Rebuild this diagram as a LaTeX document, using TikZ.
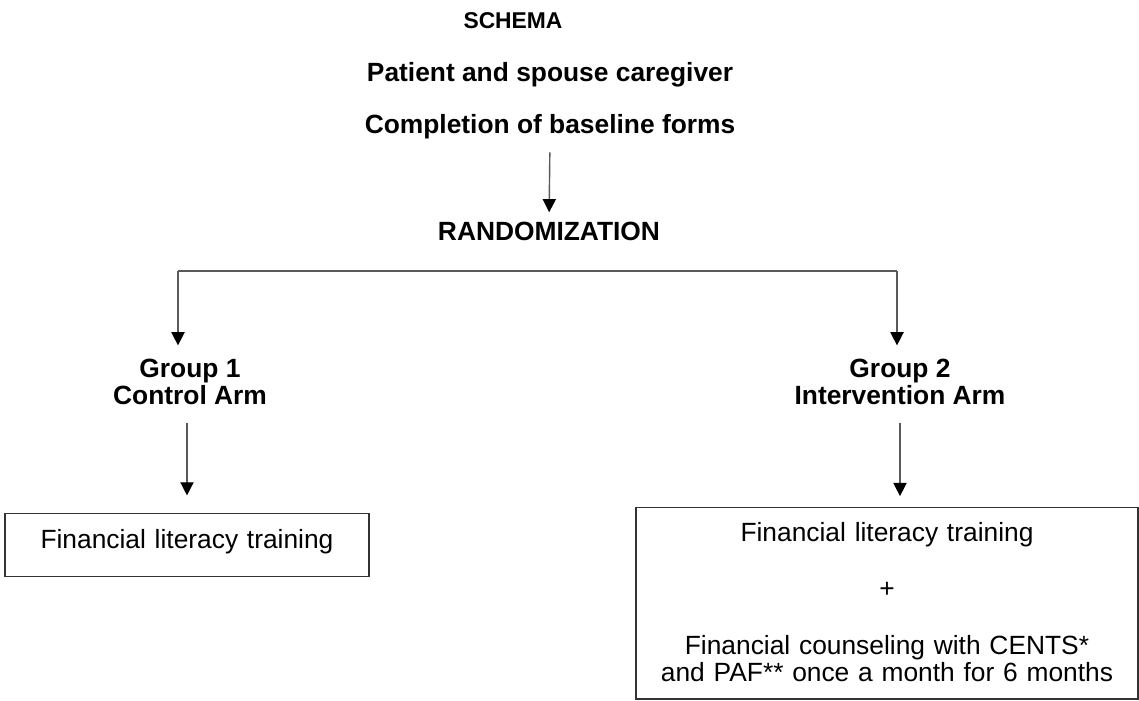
\documentclass[tikz,border=0pt]{standalone}
\usepackage{fontspec}
\setmainfont{Liberation Sans}
\usetikzlibrary{arrows.meta}

\newcommand{\schemafont}{\fontsize{15}{15.3}\selectfont}

\begin{document}
\begin{tikzpicture}[x=0.02cm, y=-0.02cm, font=\schemafont,
		title/.style={font=\schemafont\bfseries, inner sep=0pt, align=center},
		armbox/.style={draw=black!80, line width=0.8pt, inner sep=0pt, align=center},
		line/.style={draw=black!65, line width=0.8pt},
		link/.style={line, -{Triangle[width=7.5pt,length=7.5pt,black]}}]
		\useasboundingbox (0,0) rectangle (1139,700);

		% Titles
		\node[title, anchor=base, font=\fontsize{13}{15}\selectfont\bfseries] (schema) at (513,28) {SCHEMA};
		\node[title, anchor=base] (patient) at (550,81.5) {Patient and spouse caregiver};
		\node[title, anchor=base] (base) at (550,133.5) {Completion of baseline forms};
		\node[title, anchor=base] (rand) at (549,240.5) {RANDOMIZATION};

		% Arms
		\node[title] (g1) at (190,381.5) {Group 1\\Control Arm};
		\node[title] (g2) at (900,381.5) {Group 2\\Intervention Arm};

		\node[armbox, anchor=north, text width=7.28cm] (lbox) at (187,513)
			{\rule{0pt}{0.69cm}Financial literacy training\rule[-0.57cm]{0pt}{0.57cm}};
		\node[armbox, anchor=north, text width=10.04cm] (rbox) at (887,507)
			{\rule{0pt}{0.67cm}Financial literacy training\\[17pt]
			+\\[17pt]
			Financial counseling with CENTS*\\
			and PAF** once a month for 6 months\rule[-0.35cm]{0pt}{0.35cm}};

		% Connections
		\coordinate (splitL) at (178,271);
		\coordinate (splitR) at (897,271);
		\draw[link, shorten <=7.4pt, shorten >=5.4pt] (base.south) -- (rand.north);
		\draw[line] (splitL) -- (splitR);
		\draw[link, shorten >=7.4pt] (splitL) -- (splitL |- g1.north);
		\draw[link, shorten >=7.4pt] (splitR) -- (splitR |- g2.north);
		\draw[link, shorten <=10.3pt, shorten >=10pt] (lbox.north |- g1.south) -- (lbox.north);
		\draw[link, shorten <=10.3pt, shorten >=6.2pt] (g2.south) -- (g2.south |- rbox.north);
	\end{tikzpicture}
\end{document}
